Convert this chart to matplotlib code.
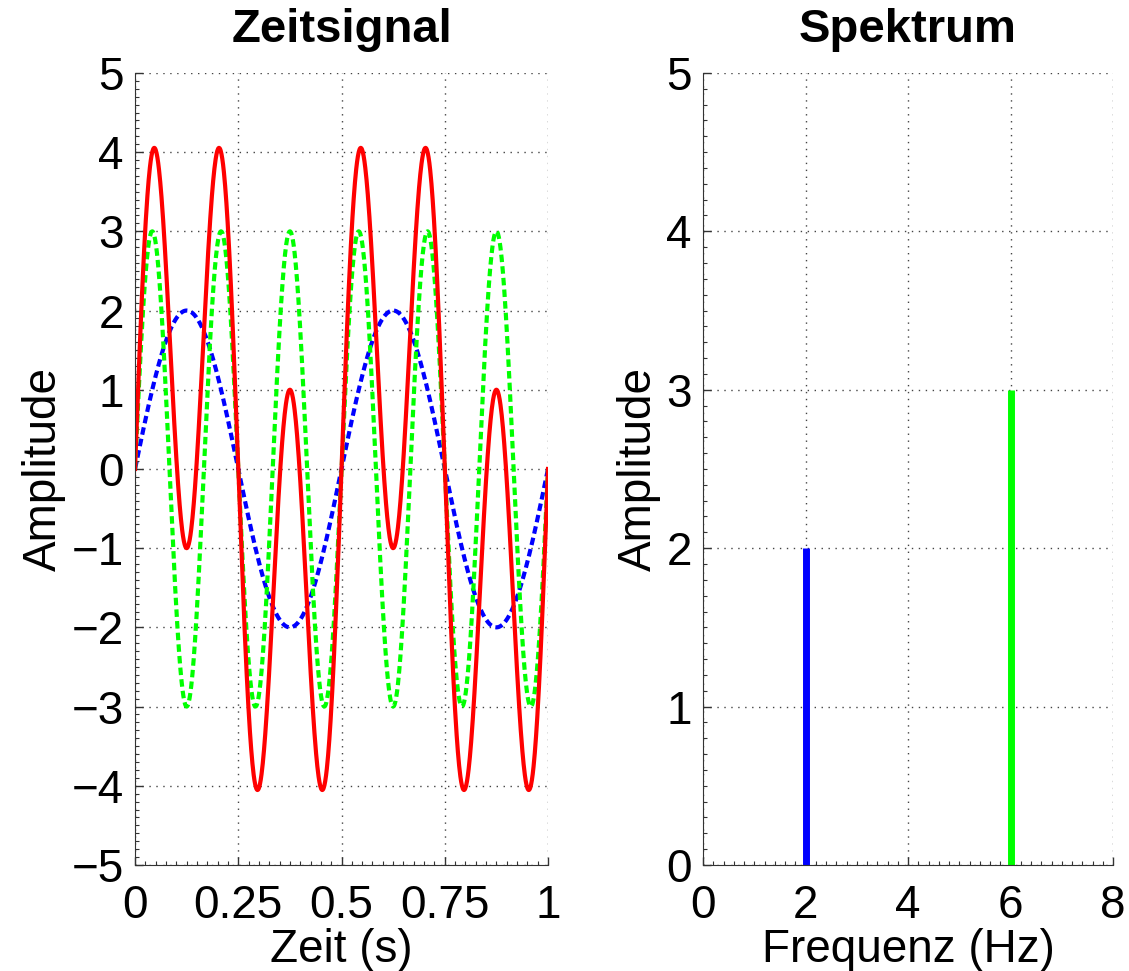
import numpy as np
import matplotlib
matplotlib.use("Agg")
import matplotlib.pyplot as plt
from matplotlib.ticker import MultipleLocator

plt.rcParams['font.family'] = ['Liberation Sans', 'DejaVu Sans']
plt.rcParams['axes.unicode_minus'] = True

freqs = [2, 6]          # Hz
amps = [2, 3]
comp_colors = ["#0000ff", "#00ff00"]

x_ticks_time = [0, 0.25, 0.5, 0.75, 1]
x_tick_labels_time = ["0", "0.25", "0.5", "0.75", "1"]
y_ticks_time = list(range(-5, 6))
x_ticks_freq = [0, 2, 4, 6, 8]
y_ticks_freq = [0, 1, 2, 3, 4, 5]

t = np.linspace(0, 1, 1000)
components = [a * np.sin(2 * np.pi * f * t) for f, a in zip(freqs, amps)]
total = sum(components)

fs = 33

fig = plt.figure(figsize=(11.29, 9.71), dpi=100)
ax1 = fig.add_axes([0.1196, 0.1092, 0.3658, 0.8157])
ax2 = fig.add_axes([0.6227, 0.1092, 0.3632, 0.8157])


def style_axes(ax):
    ax.spines['top'].set_visible(False)
    ax.spines['right'].set_visible(False)
    ax.spines['left'].set_color('#333333')
    ax.spines['bottom'].set_color('#333333')
    ax.tick_params(which='both', direction='in', colors='#333333',
                   labelcolor='black', labelsize=fs)
    ax.tick_params(which='major', length=6, width=1)
    ax.tick_params(axis='y', which='major', pad=8)
    ax.tick_params(axis='x', which='major', pad=14)
    ax.tick_params(which='minor', length=3, width=0.8)
    ax.grid(True, which='major', linestyle=(0, (1, 4)), color='#444444',
            linewidth=1.0)
    ax.set_axisbelow(True)


# Zeitsignal
for comp, col in zip(components, comp_colors):
    ax1.plot(t, comp, color=col, linewidth=3, linestyle='--',
             dashes=(1.8, 1.0))
ax1.plot(t, total, color='#ff0000', linewidth=3)
ax1.set_xlim(0, 1)
ax1.set_ylim(-5, 5)
ax1.set_xticks(x_ticks_time)
ax1.set_xticklabels(x_tick_labels_time)
ax1.set_yticks(y_ticks_time)
ax1.xaxis.set_minor_locator(MultipleLocator(0.025))
ax1.yaxis.set_minor_locator(MultipleLocator(0.1))
style_axes(ax1)
ax1.set_title("Zeitsignal", fontsize=fs + 1, fontweight='bold', pad=22)
ax1.set_xlabel("Zeit (s)", fontsize=fs, labelpad=0)
ax1.set_ylabel("Amplitude", fontsize=fs, labelpad=4)

# Spektrum
ax2.vlines(freqs, 0, amps, colors=comp_colors, linewidth=5)
ax2.set_xlim(0, 8)
ax2.set_ylim(0, 5)
ax2.set_xticks(x_ticks_freq)
ax2.set_yticks(y_ticks_freq)
ax2.xaxis.set_minor_locator(MultipleLocator(0.2))
ax2.yaxis.set_minor_locator(MultipleLocator(0.1))
style_axes(ax2)
ax2.set_title("Spektrum", fontsize=fs + 1, fontweight='bold', pad=22)
ax2.set_xlabel("Frequenz (Hz)", fontsize=fs, labelpad=0)
ax2.set_ylabel("Amplitude", fontsize=fs, labelpad=4)

fig.savefig("out.png", dpi=100)
